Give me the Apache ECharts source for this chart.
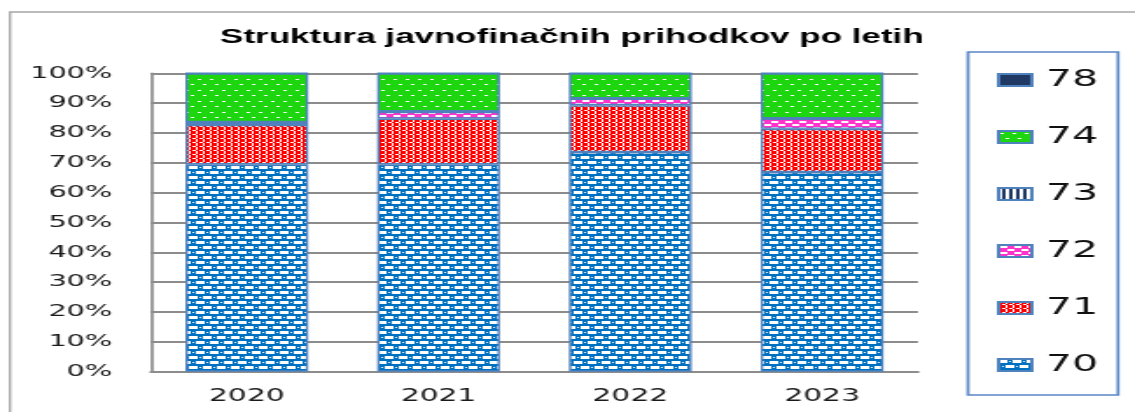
<!DOCTYPE html>
<html>
<head>
<meta charset="utf-8">
<script src="https://cdn.jsdelivr.net/npm/echarts@6/dist/echarts.min.js"></script>
<style>
  html, body { margin: 0; padding: 0; background: #fff; overflow: hidden; }
  /* the original picture is stretched sideways, so the chart is drawn narrow and scaled */
  #myCharts { width: 649px; height: 412px; transform: scaleX(1.74884); transform-origin: 0 0; }
</style>
</head>
<body>
<div id="myCharts"></div>
<script>
var years = ["2020", "2021", "2022", "2023"];
var s70 = [69.5, 69.5, 73.6, 66.9];
var s71 = [13.2, 15.3, 15.7, 14.5];
var s72 = [0.8, 2.3, 2.2, 3.4];
var s73 = [0.1, 0.1, 0.1, 0.1];
var s74 = [16.4, 12.8, 8.4, 15.1];
var s78 = [0, 0, 0, 0];
var legendOrder = ["78", "74", "73", "72", "71", "70"];

function tile(w, h, bg, fg, rects) {
  var c = document.createElement("canvas");
  c.width = w;
  c.height = h;
  var ctx = c.getContext("2d");
  ctx.fillStyle = bg;
  ctx.fillRect(0, 0, w, h);
  ctx.fillStyle = fg;
  rects.forEach(function(r) {
    ctx.fillRect(r[0], r[1], r[2], r[3]);
  });
  return { image: c, repeat: "repeat" };
}

var fill70 = tile(8, 10, "#0070c0", "#ffffff", [[0, 1, 5, 3], [6, 2, 1, 1], [4, 6, 4, 3], [0, 6, 1, 3], [2, 7, 1, 1]]);
var fill71 = tile(4, 4, "#ff0000", "#ffffff", [[0, 0, 1, 2], [2, 2, 2, 1], [0, 3, 1, 1]]);
var fill72 = tile(8, 6, "#ff33cc", "#ffffff", [[1, 1, 4, 2], [5, 4, 3, 2], [0, 4, 1, 2]]);
var fill73 = tile(4, 1, "#ffffff", "#1f3864", [[2, 0, 2, 1]]);
var fill74 = tile(7, 11, "#1ed60f", "#ffffff", [[1, 2, 2, 1], [4, 7, 2, 1]]);
var fill78 = "#1f3864";

function bar(name, data, fill) {
  return {
    name: name,
    type: "bar",
    stack: "all",
    barWidth: "64%",
    data: data,
    itemStyle: {
      color: fill,
      borderColor: "#4f81bd",
      borderWidth: 1.4
    }
  };
}

let myChart = echarts.init(document.getElementById("myCharts"));
const option = {
  animation: false,
  title: {
    text: "Struktura javnofinačnih prihodkov po letih",
    left: 327,
    top: 27,
    padding: 0,
    textAlign: "center",
    textStyle: {
      fontFamily: "Liberation Sans",
      fontWeight: "bold",
      fontSize: 20,
      color: "#000000"
    }
  },
  grid: {
    left: 86.3,
    right: 124.1,
    top: 73.3,
    bottom: 40.3,
    containLabel: false
  },
  legend: {
    orient: "vertical",
    left: 570,
    top: 68,
    padding: 0,
    data: legendOrder,
    icon: "rect",
    itemWidth: 19,
    itemHeight: 12,
    itemGap: 33,
    textStyle: {
      fontFamily: "DejaVu Sans",
      fontSize: 23.5,
      lineHeight: 24,
      color: "#111111",
      padding: [0, 0, 0, 3]
    }
  },
  graphic: [
    {
      type: "rect",
      shape: { x: 5.7, y: 12, width: 700, height: 500 },
      style: { fill: "none", stroke: "#a6a6a6", lineWidth: 1.4 },
      silent: true
    },
    {
      type: "rect",
      shape: { x: 553.5, y: 52, width: 85.8, height: 343 },
      style: { fill: "none", stroke: "#5b87c5", lineWidth: 1.7 },
      silent: true
    }
  ],
  xAxis: {
    type: "category",
    data: years,
    axisLine: { lineStyle: { color: "#8c8c8c", width: 2 } },
    axisTick: { show: false },
    axisLabel: {
      margin: 16,
      fontFamily: "DejaVu Sans",
      fontSize: 17,
      color: "#1a1a1a"
    }
  },
  yAxis: {
    type: "value",
    min: 0,
    max: 100,
    interval: 10,
    axisLine: { show: true, lineStyle: { color: "#8c8c8c", width: 1.7 } },
    axisTick: { show: false },
    splitLine: { lineStyle: { color: "#8c8c8c", width: 2 } },
    axisLabel: {
      margin: 22,
      formatter: "{value}%",
      fontFamily: "DejaVu Sans",
      fontSize: 16.5,
      color: "#1a1a1a"
    }
  },
  series: [
    bar("70", s70, fill70),
    bar("71", s71, fill71),
    bar("72", s72, fill72),
    bar("73", s73, fill73),
    bar("74", s74, fill74),
    bar("78", s78, fill78)
  ]
};
myChart.setOption(option);
</script>
</body>
</html>
